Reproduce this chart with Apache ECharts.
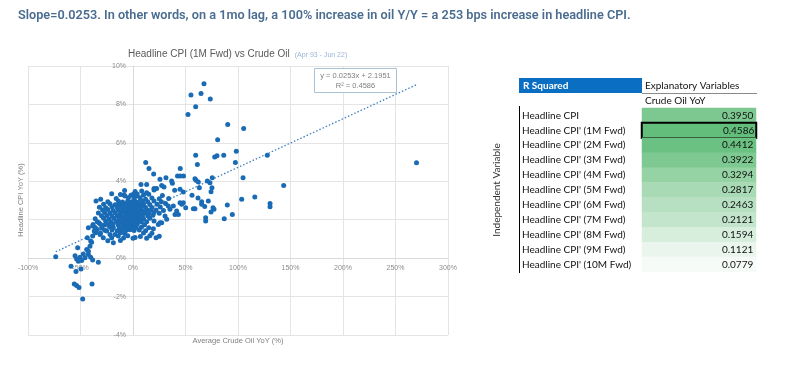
<!DOCTYPE html>
<html>
<head>
<meta charset="utf-8">
<script src="https://cdn.jsdelivr.net/npm/echarts@6/dist/echarts.min.js"></script>
<style>
html,body{margin:0;padding:0;background:#fff;}
#c{width:792px;height:370px;}
</style>
</head>
<body>
<div id="c"></div>
<script>
// ---- Data ----
const headline = "Slope=0.0253. In other words, on a 1mo lag, a 100% increase in oil Y/Y = a 253 bps increase in headline CPI.";
const chartTitle = "Headline CPI (1M Fwd) vs Crude Oil";
const chartPeriod = "(Apr 93 - Jun 22)";
const xAxisName = "Average Crude Oil YoY (%)";
const yAxisName = "Headline CPI YoY (%)";
const trendSlope = 0.0253;
const trendIntercept = 2.1951;
const trendR2 = 0.4586;

// [crude oil YoY %, headline CPI (1M fwd) YoY %]
const outlierPoints = [
 [67.6,9.08],[55.2,8.49],[64.8,8.57],[73.6,8.28],[59.7,7.88],[52.4,7.48],[90.2,6.96],[105.4,6.75],[80.6,6.16],
 [59.7,5.35],[77.8,5.26],[80,5.33],[86.4,5.35],[98.4,5.56],[127.9,5.35],[270,4.96],[116,3.18],[143.5,3.78],
 [130.5,2.67],[130.5,2.85],[97.5,4.98],[104.8,4.18],[103.5,3.06],[89.8,2.76],[75.5,4.18],[73.3,3.92],[70.8,4.01],
 [61.3,4.88],[59,4.13],[63.2,3.66],[56.2,3.27],[61.9,3.13],[65.4,2.93],[68.3,2.69],[76.2,2.62],[12.1,4.98],
 [15.2,4.67],[19.7,4.38],[45,4.67],[42.4,4.27],[44.9,4.27],[48.1,4.27],[25.7,4.11],[31.4,4.18],[36.8,4.01],
 [37.5,3.9],[13,3.83],[7.6,3.83],[27.3,3.78],[29.5,3.7],[20,3.63],[22.5,3.63],[39.7,3.53],[44.8,3.58],[47.9,3.44],
 [60,4.05],[62.2,3.96],[75.2,3.66],[74.3,3.45],[71.7,2.97],[65.4,2.8],[94.6,2.27],[86.9,2.05],[74.3,2.4],
 [77.1,2.54],[69.2,2.1],[69.2,1.93],[59,2.57],[57.5,2.57],[47.9,2.88],[46.4,2.8],[44.8,2.88],[50.2,2.62],
 [41.6,2.45],[40,2.27],[43.2,2.27],[38.4,2.71],[33.6,2.71],[35.2,2.54],[30.5,2.19],[32.1,2.02],[25.7,1.84],
 [27.3,1.84],[24.1,1.75],[19.4,1.53]
];
const lowPoints = [
 [-73.6,0.07],[-59,-0.42],[-54.3,-0.7],[-49.5,-0.56],[-55.9,-1.34],[-53.7,-1.42],[-51.4,-1.53],[-39,-1.34],
 [-47.9,-2.13],[-33,-0.22],[-52.7,0.54],[-55.2,0.12],[-53.7,-0.05],[-50.5,0.05],[-52.1,-0.16],[-48.9,-0.12],
 [-47.3,0.22],[-45.7,0.02],[-44.1,0.45],[-41,0.62],[-39.4,0.83],[-42.5,0.19],[-40.3,0.05],[-38.4,-0.1],
 [-42.5,0.36],[-43.5,1.06],[-42.5,1.58],[-38.4,1.67],[-40.3,0.89],[-38.4,1.15],[-35.6,1.32],[-34,1.49],
 [-36.9,1.41],[-32.4,1.84],[-29.8,1.58],[-31.4,1.23],[-28.3,1.06],[-23.5,1.75],[-25.1,1.41],[-21.9,1.23],
 [-18.7,1.58],[-20.3,1.06],[-17.1,1.23],[-18.7,0.8]
];
const corePoints = [
 [-20.3,3.35],[-35.2,2.97],[-30.8,3.06],[8.3,3.49],[13,3.4],[-7.6,3.23],[-4.4,3.14],[0.3,3.32],[3.5,3.23],[6.7,3.14],[-8.6,3.28],
 [-8,3.52],[2,3.47],[20,3.55],
 [-12,3.31],[-2,3.27],[4,3.34],[10,3.29],[15,3.33],[28,3.26],
 [-16,3.1],[1,3.12],[12,3.07],[18,3.13],[25,3.09],[34,3.11],
 [-24,2.94],[-14,2.97],[-10,2.92],[-5,2.98],[-1,2.93],[2,2.96],[5,2.91],[9,2.97],[14,2.94],[20,2.98],[27,2.93],
 [-28,2.8],[-22,2.83],[-17,2.78],[-13,2.82],[-9,2.79],[-6,2.84],[-3,2.77],[0,2.81],[3,2.83],[6,2.78],[10,2.82],[16,2.79],[23,2.81],[31,2.84],
 [-32,2.65],[-26,2.62],[-20,2.67],[-15,2.64],[-11,2.66],[-7,2.61],[-4,2.68],[-1,2.63],[2,2.66],[4,2.62],[8,2.67],[12,2.64],[18,2.63],[26,2.66],
 [-29,2.5],[-24,2.53],[-19,2.48],[-14,2.51],[-10,2.47],[-6,2.52],[-3,2.49],[0,2.53],[3,2.48],[6,2.51],[9,2.46],[13,2.52],[17,2.49],[22,2.51],[29,2.48],
 [-33,2.35],[-27,2.37],[-22,2.33],[-17,2.36],[-12,2.32],[-8,2.38],[-4,2.34],[-1,2.36],[1,2.31],[4,2.37],[7,2.33],[11,2.35],[15,2.32],[20,2.37],[25,2.34],
 [-30,2.2],[-25,2.22],[-20,2.18],[-15,2.21],[-11,2.17],[-7,2.23],[-3,2.19],[0,2.21],[2,2.16],[5,2.22],[9,2.19],[14,2.2],[19,2.23],
 [-36,2.05],[-28,2.07],[-23,2.03],[-18,2.06],[-13,2.02],[-9,2.08],[-5,2.04],[-2,2.06],[1,2.03],[3,2.07],[6,2.02],[10,2.05],[16,2.08],
 [-34,1.9],[-26,1.92],[-21,1.88],[-16,1.91],[-12,1.87],[-8,1.93],[-4,1.89],[-1,1.91],[2,1.87],[5,1.92],[8,1.88],[13,1.9],[20,1.93],
 [-38,1.75],[-31,1.77],[-27,1.73],[-19,1.76],[-14,1.72],[-10,1.78],[-6,1.74],[-3,1.76],[0,1.73],[4,1.77],[11,1.74],
 [-36,1.6],[-22,1.62],[-13,1.58],[-9,1.61],[-5,1.57],[-1,1.63],[3,1.59],[8,1.61],[15,1.58],
 [-27,1.45],[-20,1.47],[-15,1.43],[-11,1.46],[-7,1.42],[-3,1.48],[1,1.44],[6,1.46],[12,1.43],
 [-31,1.3],[-12,1.32],[-8,1.28],[10,1.31],[18,1.29],
 [-14,1.15],[-5,1.17],[7,1.13],[16,1.16],[25,1.14],
 [-9,1.05],[0,1.03],[2,1.07],[13,1.04],[22,1.06],
 [-24,0.9],[-12,0.92]
];

const xMin = -100, xMax = 300, xStep = 50;
const yMin = -4, yMax = 10, yStep = 2;

// table
const tableColumn = ["Crude Oil YoY"];
const tableRows = ["Headline CPI","Headline CPI' (1M Fwd)","Headline CPI' (2M Fwd)","Headline CPI' (3M Fwd)",
 "Headline CPI' (4M Fwd)","Headline CPI' (5M Fwd)","Headline CPI' (6M Fwd)","Headline CPI' (7M Fwd)",
 "Headline CPI' (8M Fwd)","Headline CPI' (9M Fwd)","Headline CPI' (10M Fwd)"];
const rSquared = [0.3950,0.4586,0.4412,0.3922,0.3294,0.2817,0.2463,0.2121,0.1594,0.1121,0.0779];
const highlightedRow = 1;

// ---- Build ----
const allPoints = outlierPoints.concat(lowPoints, corePoints);
const xs = allPoints.map(p => p[0]);
const tMin = Math.min(...xs), tMax = Math.max(...xs);
const trendData = [[tMin, trendSlope*tMin + trendIntercept],[tMax, trendSlope*tMax + trendIntercept]];

const heatData = rSquared.map((v,i) => {
  const d = {value:[0,i,v]};
  if (i === highlightedRow) d.itemStyle = {borderColor:'#000', borderWidth:2};
  return d;
});

const G = {left:28, top:66, width:420, height:269};
// axes cross at zero: shift each axis from the grid edge to the other axis's zero
const xAxisOffset = -((0 - yMin) / (yMax - yMin)) * G.height;
const yAxisOffset = -((0 - xMin) / (xMax - xMin)) * G.width;

const chart = echarts.init(document.getElementById('c'), null, {renderer:'canvas'});
const axisLabelStyle = {fontSize:7, color:'#8C8C8C', fontFamily:'Liberation Sans'};
const tableFont = 'Lato';

chart.setOption({
  animation:false,
  backgroundColor:'#fff',
  title:{
    text:'{a|' + chartTitle + '} {b|' + chartPeriod + '}',
    left:123, top:40,
    textStyle:{fontWeight:'normal', rich:{
      a:{fontSize:10, color:'#595959', fontFamily:'Liberation Sans', fontWeight:'normal'},
      b:{fontSize:7, color:'#9DB3D8', fontFamily:'Liberation Sans', fontWeight:'normal', padding:[2,0,0,0]}
    }}
  },
  grid:[
    G,
    {left:642, top:108, width:114, height:164}
  ],
  xAxis:[
    {gridIndex:0, type:'value', min:xMin, max:xMax, interval:xStep, position:'bottom', offset:xAxisOffset,
     axisLine:{onZero:false, lineStyle:{color:'#D9D9D9'}}, axisTick:{show:false},
     axisLabel:Object.assign({formatter:'{value}%', margin:6, showMinLabel:true, showMaxLabel:true}, axisLabelStyle),
     splitLine:{show:true, lineStyle:{color:'#E4E4E4', width:1}}},
    {gridIndex:1, type:'category', data:tableColumn, show:false}
  ],
  yAxis:[
    {gridIndex:0, type:'value', min:yMin, max:yMax, interval:yStep, position:'left', offset:yAxisOffset,
     axisLine:{onZero:false, lineStyle:{color:'#D9D9D9'}}, axisTick:{show:false},
     axisLabel:Object.assign({formatter:'{value}%', margin:7, showMinLabel:true, showMaxLabel:true}, axisLabelStyle),
     splitLine:{show:true, lineStyle:{color:'#E4E4E4', width:1}}},
    {gridIndex:1, type:'category', data:tableRows, inverse:true,
     axisLine:{show:false}, axisTick:{show:false}, splitLine:{show:false},
     axisLabel:{align:'left', margin:120, fontSize:10, color:'#111', fontFamily:tableFont}}
  ],
  visualMap:{show:false, seriesIndex:2, dimension:2, min:0.0779, max:0.4586,
    inRange:{color:['#F7FBF8','#63BE7B']}},
  series:[
    {type:'scatter', xAxisIndex:0, yAxisIndex:0, data:allPoints, symbolSize:5,
     itemStyle:{color:'#1A6BB5', opacity:1}, z:3},
    {type:'line', xAxisIndex:0, yAxisIndex:0, data:trendData, symbol:'none',
     lineStyle:{color:'#3A7FC1', width:1.3, type:[1.5,2]}, z:2, silent:true},
    {type:'heatmap', xAxisIndex:1, yAxisIndex:1, data:heatData,
     label:{show:true, position:'insideRight', distance:3, color:'#111', fontSize:10, fontFamily:tableFont,
       formatter:p => p.value[2].toFixed(4)},
     itemStyle:{borderWidth:0}}
  ],
  graphic:[
    {type:'text', left:18, top:9, style:{text:headline, fontSize:12.7, fontWeight:600, fill:'#4A6C90', fontFamily:'Roboto'}},
    {type:'group', children:[
      {type:'rect', shape:{x:314.5, y:68.5, width:82, height:24}, style:{fill:'#fff', stroke:'#A9C2D6', lineWidth:1}, z:10},
      {type:'text', x:355.5, y:76, style:{text:'y = ' + trendSlope.toFixed(4) + 'x + ' + trendIntercept.toFixed(4), fontSize:7.5, fill:'#7F7F7F', align:'center', verticalAlign:'middle', fontFamily:'Liberation Sans'}, z:11},
      {type:'text', x:355.5, y:86, style:{text:'R\u00B2 = ' + trendR2.toFixed(4), fontSize:7.5, fill:'#7F7F7F', align:'center', verticalAlign:'middle', fontFamily:'Liberation Sans'}, z:11}
    ]},
    {type:'text', x:21, y:200, rotation:Math.PI/2, style:{text:yAxisName, fontSize:7.5, fill:'#7F7F7F', align:'center', verticalAlign:'middle', fontFamily:'Liberation Sans'}},
    {type:'text', x:238, y:341, style:{text:xAxisName, fontSize:7.5, fill:'#7F7F7F', align:'center', verticalAlign:'middle', fontFamily:'Liberation Sans'}},
    // table header
    {type:'rect', shape:{x:519, y:78, width:123, height:15}, style:{fill:'#0A6FC2'}},
    {type:'text', x:523, y:85.5, style:{text:'R Squared', fontSize:10, fontWeight:'bold', fill:'#fff', verticalAlign:'middle', fontFamily:tableFont}},
    {type:'text', x:645, y:86, style:{text:'Explanatory Variables', fontSize:10, fill:'#111', verticalAlign:'middle', fontFamily:tableFont}},
    {type:'line', shape:{x1:642, y1:93.5, x2:757, y2:93.5}, style:{stroke:'#8A8A8A', lineWidth:1}},
    {type:'text', x:645, y:101, style:{text:tableColumn[0], fontSize:10, fill:'#111', verticalAlign:'middle', fontFamily:tableFont}},
    {type:'line', shape:{x1:519.5, y1:106, x2:519.5, y2:273}, style:{stroke:'#000', lineWidth:1}},
    {type:'text', x:497, y:190, rotation:Math.PI/2, style:{text:'Independent Variable', fontSize:10, fill:'#333', align:'center', verticalAlign:'middle', fontFamily:tableFont}}
  ]
});
</script>
</body>
</html>
